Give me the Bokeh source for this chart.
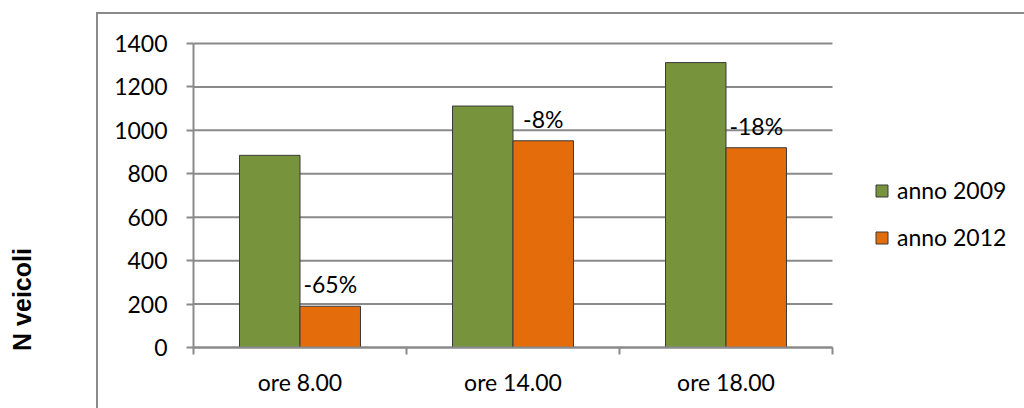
from bokeh.plotting import figure
from bokeh.models import (Range1d, FixedTicker, Legend, LegendItem, Label,
                          ColumnDataSource, InlineStyleSheet)
from bokeh.core.properties import value
from bokeh.embed import file_html
from bokeh.resources import INLINE

# Traffic counts (number of vehicles) by time of day
categories = ["ore 8.00", "ore 14.00", "ore 18.00"]
series_names = ["anno 2009", "anno 2012"]
vehicles_2009 = [885, 1112, 1312]
vehicles_2012 = [190, 952, 920]
change_labels = ["-65%", "-8%", "-18%"]
y_ticks = [0, 200, 400, 600, 800, 1000, 1200, 1400]
y_title = "N veicoli"

FONT = "Lato"
GREEN = "#77933C"
ORANGE = "#E46C0A"
GRID = "#8a8a8a"
BAR_W = 0.284

# canvas size and pixel box of the plotting area; the frame covers the
# whole canvas and the axes are pinned to the data origin
W, H = 1024, 408
PLOT_LEFT, PLOT_RIGHT, PLOT_TOP, PLOT_BOTTOM = 193, 832, 43, 347
n_cat = len(categories)
y_max = y_ticks[-1]
px_x = (PLOT_RIGHT - PLOT_LEFT) / n_cat
px_y = (PLOT_BOTTOM - PLOT_TOP) / y_max
x_range = Range1d(-PLOT_LEFT / px_x, (W - PLOT_LEFT) / px_x)
y_range = Range1d(-(H - PLOT_BOTTOM) / px_y, y_max + PLOT_TOP / px_y)

centers = [i + 0.5 for i in range(n_cat)]
src = ColumnDataSource(dict(
    x09=[c - BAR_W / 2 for c in centers],
    x12=[c + BAR_W / 2 for c in centers],
    v09=vehicles_2009,
    v12=vehicles_2012,
    lab=change_labels,
))
grid_src = ColumnDataSource(dict(
    y=y_ticks, x0=[0] * len(y_ticks), x1=[n_cat] * len(y_ticks)))

# chart-area border (top and left edges), painted behind a transparent canvas
border_css = InlineStyleSheet(css=f"""
:host {{
  background:
    linear-gradient({GRID}, {GRID}) 97px 12px / 927px 2px no-repeat,
    linear-gradient({GRID}, {GRID}) 96px 12px / 2px 396px no-repeat,
    white;
}}
""")

p = figure(width=W, height=H, output_backend="svg", toolbar_location=None,
           x_range=x_range, y_range=y_range,
           min_border_left=0, min_border_right=0, min_border_top=0,
           min_border_bottom=0, stylesheets=[border_css])
p.outline_line_color = None
p.background_fill_color = None
p.border_fill_color = None
p.xgrid.visible = False
p.ygrid.visible = False

# horizontal gridlines across the category area
p.segment(x0="x0", x1="x1", y0="y", y1="y", source=grid_src,
          line_color=GRID, line_width=2)

# bars
r09 = p.vbar(x="x09", top="v09", width=BAR_W, source=src, fill_color=GREEN,
             line_color="#3a3a3a", line_width=1)
r12 = p.vbar(x="x12", top="v12", width=BAR_W, source=src, fill_color=ORANGE,
             line_color="#3a3a3a", line_width=1)

# percentage change labels above the 2012 bars
p.text(x="x12", y="v12", text="lab", source=src, text_align="center",
       text_baseline="middle", y_offset=-22, text_font=value(FONT),
       text_font_size="23px", text_color="black")

# x axis: labels at category centres, boundary ticks as minor ticks
xa = p.xaxis[0]
xa.fixed_location = 0
xa.bounds = (0, n_cat)
xa.ticker = FixedTicker(ticks=centers, minor_ticks=list(range(n_cat + 1)))
xa.major_label_overrides = {c: cat for c, cat in zip(centers, categories)}
xa.major_tick_out = 0
xa.major_tick_in = 0
xa.minor_tick_out = 7
xa.minor_tick_in = 0
xa.minor_tick_line_color = GRID
xa.minor_tick_line_width = 2
xa.axis_line_color = GRID
xa.axis_line_width = 2
xa.major_label_standoff = 13
xa.major_label_text_font = FONT
xa.major_label_text_font_size = "23px"
xa.major_label_text_color = "black"

# y axis
ya = p.yaxis[0]
ya.fixed_location = 0
ya.bounds = (0, y_max)
ya.ticker = FixedTicker(ticks=y_ticks)
ya.major_tick_out = 7
ya.major_tick_in = 0
ya.minor_tick_line_color = None
ya.major_tick_line_color = GRID
ya.major_tick_line_width = 2
ya.axis_line_color = GRID
ya.axis_line_width = 2
ya.major_label_standoff = 19
ya.major_label_text_font = FONT
ya.major_label_text_font_size = "23px"
ya.major_label_text_color = "black"

# vertical axis title, outside the chart area on the left
p.add_layout(Label(x=21.5, y=H - 299, x_units="screen", y_units="screen",
                   text=y_title, angle=90, angle_units="deg",
                   text_align="center", text_baseline="middle",
                   text_font="Liberation Sans", text_font_style="bold",
                   text_font_size="25px", text_color="black"))

# legend to the right of the category area
lg = Legend(items=[LegendItem(label=series_names[0], renderers=[r09]),
                   LegendItem(label=series_names[1], renderers=[r12])],
            location=(874, 157), orientation="vertical", padding=0, margin=0,
            border_line_color=None, background_fill_alpha=0,
            glyph_width=15, glyph_height=15, label_standoff=8, spacing=19,
            label_text_font=FONT, label_text_font_size="23px",
            label_text_color="black")
p.add_layout(lg)

open("out.html", "w").write(file_html(p, INLINE))
